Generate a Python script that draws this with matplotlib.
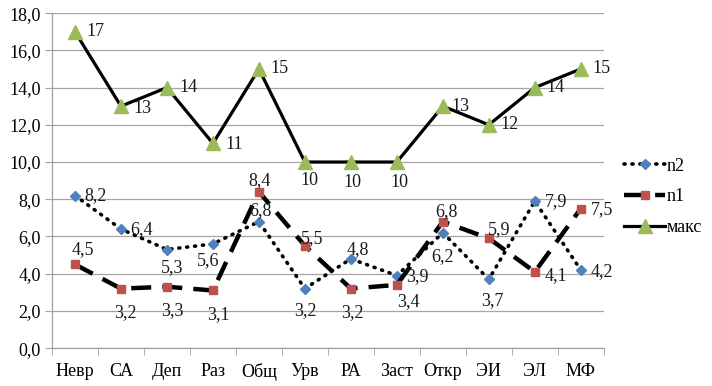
import matplotlib
matplotlib.use("Agg")
import matplotlib.pyplot as plt
from matplotlib.ticker import FixedLocator, FuncFormatter
import numpy as np

categories = ["Невр", "СА", "Деп", "Раз", "Общ", "Урв", "РА", "Заст", "Откр", "ЭИ", "ЭЛ", "МФ"]
n2 = [8.2, 6.4, 5.3, 5.6, 6.8, 3.2, 4.8, 3.9, 6.2, 3.7, 7.9, 4.2]
n1 = [4.5, 3.2, 3.3, 3.1, 8.4, 5.5, 3.2, 3.4, 6.8, 5.9, 4.1, 7.5]
maks = [17, 13, 14, 11, 15, 10, 10, 10, 13, 12, 14, 15]

# label offsets in pixels (dx, dy, ha)
off_n2 = [(9, 0, "left"), (9, -1, "left"), (5, -18, "center"), (-5, -17, "center"),
          (2, 11, "center"), (0, -22, "center"), (7, 9, "center"), (9, -1, "left"),
          (0, -24, "center"), (3, -21, "center"), (10, 0, "left"), (10, -2, "left")]
off_n1 = [(8, 15, "center"), (4, -24, "center"), (5, -24, "center"), (6, -24, "center"),
          (1, 11, "center"), (7, 7, "center"), (2, -24, "center"), (12, -17, "center"),
          (4, 10, "center"), (10, 9, "center"), (10, -4, "left"), (10, -1, "left")]
off_mx = [(11, 0, "left"), (12, -2, "left"), (12, 0, "left"), (12, -1, "left"),
          (12, 0, "left"), (5, -18, "center"), (2, -20, "center"), (3, -20, "center"),
          (9, 0, "left"), (12, 0, "left"), (12, 0, "left"), (12, 0, "left")]

FONT = "Liberation Serif"
plt.rcParams["font.family"] = [FONT, "DejaVu Serif"]
FS = 13

fig = plt.figure(figsize=(7.12, 3.86), dpi=100)
ax = fig.add_axes([0.073, 0.098, 0.775, 0.868])

x = np.arange(len(categories))
l2, = ax.plot(x, n2, color="black", lw=2.6, linestyle=(0, (0.3, 1.9)), dash_capstyle="round",
              marker="D", markersize=5.5, markerfacecolor="#4F81BD", markeredgecolor="#4F81BD",
              label="n2", zorder=3)
l1, = ax.plot(x, n1, color="black", lw=3.2, linestyle=(0, (4.5, 2.5)),
              marker="s", markersize=5.5, markerfacecolor="#C0504D", markeredgecolor="#C0504D",
              label="n1", zorder=3)
lm, = ax.plot(x, maks, color="black", lw=2.3, linestyle="-",
              marker="^", markersize=9.5, markerfacecolor="#9BBB59", markeredgecolor="#9BBB59",
              label="макс", zorder=3)

def fmt(v):
    if float(v).is_integer():
        return str(int(v))
    return ("%.1f" % v).replace(".", ",")

for vals, offs in ((n2, off_n2), (n1, off_n1), (maks, off_mx)):
    for i, (v, (dx, dy, ha)) in enumerate(zip(vals, offs)):
        ax.annotate(fmt(v), (i, v), xytext=(dx, dy), textcoords="offset pixels",
                    ha=ha, va="center", fontsize=FS, color="#1a1a1a", zorder=4)

ax.set_xlim(-0.5, len(categories) - 0.5)
ax.set_ylim(0, 18)
ax.set_yticks(np.arange(0, 18.1, 2))
ax.yaxis.set_major_formatter(FuncFormatter(lambda v, p: ("%.1f" % v).replace(".", ",")))
ax.set_xticks(x)
ax.set_xticklabels(categories)
ax.xaxis.set_minor_locator(FixedLocator(np.arange(-0.5, len(categories), 1)))
ax.tick_params(axis="x", which="major", length=0, pad=11, labelsize=FS)
ax.tick_params(axis="x", which="minor", length=5, color="#A0A0A0", direction="out")
ax.tick_params(axis="y", which="major", length=5, color="#A0A0A0", labelsize=FS, pad=3)

ax.grid(axis="y", color="#A6A6A6", lw=0.9)
ax.set_axisbelow(True)
for s in ("top", "right"):
    ax.spines[s].set_visible(False)
for s in ("left", "bottom"):
    ax.spines[s].set_color("#A0A0A0")
    ax.spines[s].set_linewidth(0.9)

leg = fig.legend(handles=[l2, l1, lm], loc="upper left", bbox_to_anchor=(0.866, 0.61),
                 frameon=False, fontsize=FS, handlelength=2.3, handletextpad=0.05,
                 labelspacing=0.75, borderaxespad=0)

fig.savefig("out.png", dpi=100)
